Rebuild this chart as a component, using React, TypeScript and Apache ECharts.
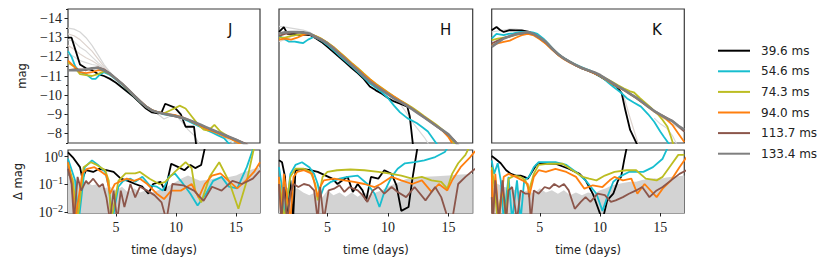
import React, { useEffect, useRef } from "react";
import * as echarts from "echarts";

type P = [number, number];

const SERIES_NAMES = ["39.6 ms", "54.6 ms", "74.3 ms", "94.0 ms", "113.7 ms", "133.4 ms"];
const COLORS = ["#000000", "#17becf", "#bcbd22", "#ff7f0e", "#8c564b", "#7f7f7f"];
const PANEL_LABELS = ["J", "H", "K"];
const MAG_TICKS = [-14, -13, -12, -11, -10, -9, -8];
const TIME_TICKS = [5, 10, 15];

// ---------- J band: magnitudes ----------
const J_BLACK: P[] = [[1,-13.0],[1.3,-13.0],[1.6,-12.4],[2,-11.6],[2.5,-11.4],[3,-11.3],[3.5,-11.1],[4,-11.0],[4.5,-10.85],[5,-10.65],[5.5,-10.4],[6,-10.15],[6.5,-9.9],[7,-9.6],[7.5,-9.3],[8,-9.1],[8.5,-9.05],[8.8,-9.1],[9.1,-9.55],[9.9,-9.35],[10.4,-9.0],[10.8,-8.35],[11.5,-8.35],[11.7,-7.3]];
const J_CYAN: P[] = [[1,-12.3],[1.3,-12.0],[1.6,-11.5],[2,-11.2],[2.5,-11.1],[3,-10.85],[3.3,-10.85],[3.7,-11.1],[4,-11.2],[4.5,-11.05],[5,-10.82],[5.5,-10.55],[6,-10.25],[6.5,-9.95],[7,-9.65],[7.5,-9.4],[8,-9.2],[8.5,-9.1],[9,-9.0],[9.5,-8.95],[10,-8.9],[10.5,-8.8],[11,-8.65],[11.5,-8.5],[12,-8.35],[12.5,-8.2],[13,-8.05],[13.5,-7.9],[14,-7.75],[14.3,-7.55],[14.6,-7.3]];
const J_OLIVE: P[] = [[1,-11.7],[1.5,-11.5],[2,-11.1],[2.5,-11.05],[3,-11.0],[3.5,-11.1],[4,-11.25],[4.5,-11.1],[5,-10.85],[5.5,-10.58],[6,-10.28],[6.5,-9.97],[7,-9.67],[7.5,-9.4],[8,-9.2],[8.5,-9.1],[9,-9.05],[9.5,-9.2],[10,-9.35],[10.3,-9.45],[10.8,-9.3],[11.3,-8.9],[11.8,-8.5],[12.3,-8.2],[12.7,-8.15],[13.2,-8.45],[13.7,-8.1],[14.2,-7.9],[14.7,-7.7],[15.2,-7.5],[15.6,-7.3]];
const J_ORANGE: P[] = [[1,-11.8],[1.5,-11.5],[2,-11.2],[2.5,-11.15],[3,-11.2],[3.5,-11.3],[4,-11.3],[4.5,-11.1],[5,-10.85],[5.5,-10.6],[6,-10.3],[6.5,-10.0],[7,-9.7],[7.5,-9.42],[8,-9.22],[8.5,-9.12],[9,-9.05],[9.5,-9.0],[10,-8.95],[10.5,-8.85],[11,-8.72],[11.5,-8.55],[12,-8.4],[12.5,-8.25],[13,-8.12],[13.5,-8.0],[14,-7.85],[14.5,-7.72],[15,-7.58],[15.5,-7.4]];
const J_BROWN: P[] = [[1,-11.3],[1.5,-11.35],[2,-11.35],[2.5,-11.3],[3,-11.4],[3.5,-11.45],[4,-11.35],[4.5,-11.12],[5,-10.87],[5.5,-10.6],[6,-10.3],[6.5,-10.0],[7,-9.7],[7.5,-9.42],[8,-9.2],[8.5,-9.1],[9,-9.02],[9.5,-8.96],[10,-8.88],[10.5,-8.8],[11,-8.7],[11.5,-8.58],[12,-8.45],[12.5,-8.32],[13,-8.18],[13.5,-8.05],[14,-7.92],[14.5,-7.8],[15,-7.68],[15.5,-7.55],[16,-7.4]];
const J_GRAY: P[] = [[1,-11.3],[1.5,-11.3],[2,-11.3],[2.5,-11.35],[3,-11.4],[3.5,-11.43],[4,-11.3],[4.5,-11.12],[5,-10.85],[5.5,-10.6],[6,-10.3],[6.5,-9.98],[7,-9.68],[7.5,-9.4],[8,-9.2],[8.5,-9.1],[9,-9.03],[9.5,-8.97],[10,-8.9],[10.5,-8.83],[11,-8.72],[11.5,-8.6],[12,-8.47],[12.5,-8.33],[13,-8.2],[13.5,-8.07],[14,-7.93],[14.5,-7.8],[15,-7.67],[15.5,-7.52],[16,-7.35]];
const J_FAINT: P[][] = [
  [[1,-13.5],[1.5,-13.45],[2,-13.3],[2.5,-13.0],[3,-12.6],[3.5,-12.1],[4,-11.6],[4.5,-11.2],[5,-10.9],[5.5,-10.62],[6,-10.32]],
  [[1,-13.2],[1.5,-13.1],[2,-12.9],[2.5,-12.6],[3,-12.3],[3.5,-11.9],[4,-11.5],[4.5,-11.15],[5,-10.88],[5.5,-10.6]],
  [[1,-12.9],[1.5,-12.8],[2,-12.5],[2.5,-12.3],[3,-12.0],[3.5,-11.7],[4,-11.45],[4.5,-11.15],[5,-10.87]],
  [[1,-12.6],[1.5,-12.4],[2,-12.15],[2.5,-11.95],[3,-11.8],[3.5,-11.6],[4,-11.4],[4.5,-11.12]],
  [[1,-12.2],[1.5,-12.0],[2,-11.8],[2.5,-11.7],[3,-11.6],[3.5,-11.55],[4,-11.4]],
  [[8,-9.2],[8.5,-9.0],[9,-8.75],[9.5,-8.9],[10,-8.95],[10.5,-8.6],[11,-8.2],[11.5,-7.9],[12,-7.4]],
  [[12,-8.4],[13,-8.1],[14,-7.8],[14.8,-7.5]],
];

// ---------- H band: magnitudes ----------
const H_BLACK: P[] = [[1,-13.3],[1.4,-13.55],[1.7,-13.2],[2.2,-13.2],[2.7,-13.15],[3.2,-13.15],[3.6,-13.13],[4,-12.98],[4.5,-12.78],[5,-12.52],[5.5,-12.25],[6,-11.97],[6.5,-11.7],[7,-11.42],[7.5,-11.15],[8,-10.85],[8.5,-10.45],[9,-10.25],[9.5,-10.07],[10,-9.85],[10.5,-9.67],[11,-9.55],[11.6,-9.4],[11.8,-8.9],[12.1,-7.2]];
const H_CYAN: P[] = [[1,-13.1],[1.4,-12.95],[1.8,-12.8],[2.3,-12.8],[2.7,-12.75],[3,-12.72],[3.4,-12.9],[3.9,-13.05],[4.5,-12.85],[5,-12.62],[5.5,-12.35],[6,-12.05],[6.5,-11.78],[7,-11.5],[7.5,-11.22],[8,-10.92],[8.5,-10.62],[9,-10.38],[9.5,-10.15],[10,-9.85],[10.5,-9.45],[11,-9.1],[11.6,-8.8],[12.4,-8.53],[12.9,-8.3],[13.3,-8.1],[13.9,-7.57],[14.2,-7.3]];
const H_OLIVE: P[] = [[1,-13.0],[1.5,-13.0],[2,-13.1],[2.5,-13.15],[3,-13.2],[3.5,-13.2],[4,-13.1],[4.5,-12.95],[5,-12.75],[5.5,-12.52],[6,-12.25],[6.5,-11.97],[7,-11.68],[7.5,-11.42],[8,-11.13],[8.5,-10.85],[9,-10.6],[9.5,-10.38],[10,-10.15],[10.5,-9.93],[11,-9.73],[11.5,-9.55],[12,-9.35],[12.5,-9.13],[13,-8.9],[13.5,-8.68],[14,-8.45],[14.5,-8.2],[15,-7.9],[15.4,-7.55],[15.7,-7.3]];
const H_ORANGE: P[] = [[1,-12.9],[1.5,-12.95],[2,-12.9],[2.5,-13.0],[3,-13.15],[3.5,-13.2],[4,-13.08],[4.5,-12.93],[5,-12.73],[5.5,-12.5],[6,-12.22],[6.5,-11.94],[7,-11.65],[7.5,-11.38],[8,-11.1],[8.5,-10.83],[9,-10.57],[9.5,-10.35],[10,-10.13],[10.5,-9.93],[11,-9.72],[11.5,-9.52],[12,-9.3],[12.5,-9.08],[13,-8.86],[13.5,-8.64],[14,-8.4],[14.5,-8.15],[15,-7.8],[15.3,-7.5]];
const H_BROWN: P[] = [[1,-13.1],[1.5,-13.2],[2,-13.25],[2.5,-13.28],[3,-13.25],[3.5,-13.18],[4,-13.02],[4.5,-12.87],[5,-12.68],[5.5,-12.43],[6,-12.14],[6.5,-11.86],[7,-11.57],[7.5,-11.29],[8,-11.0],[8.5,-10.72],[9,-10.47],[9.5,-10.26],[10,-10.04],[10.5,-9.83],[11,-9.65],[11.5,-9.47],[12,-9.27],[12.5,-9.05],[13,-8.83],[13.5,-8.61],[14,-8.38],[14.5,-8.15],[15,-7.92],[15.5,-7.62],[15.8,-7.4]];
const H_GRAY: P[] = [[1,-13.22],[1.5,-13.28],[2,-13.3],[2.5,-13.3],[3,-13.28],[3.5,-13.22],[4,-13.05],[4.5,-12.9],[5,-12.7],[5.5,-12.45],[6,-12.15],[6.5,-11.87],[7,-11.58],[7.5,-11.3],[8,-11.0],[8.5,-10.72],[9,-10.48],[9.5,-10.27],[10,-10.05],[10.5,-9.83],[11,-9.66],[11.5,-9.48],[12,-9.27],[12.5,-9.05],[13,-8.83],[13.5,-8.61],[14,-8.39],[14.5,-8.17],[15,-7.95],[15.5,-7.6],[15.9,-7.3]];
const H_FAINT: P[][] = [
  [[1,-13.6],[1.5,-13.55],[2,-13.5],[2.5,-13.45],[3,-13.4],[3.5,-13.3],[4,-13.1],[4.5,-12.92]],
  [[1,-12.8],[1.5,-12.9],[2,-13.05],[2.5,-13.15],[3,-13.2],[3.5,-13.15],[4,-13.03]],
  [[10.5,-9.75],[11,-9.55],[11.5,-9.1],[12,-8.6],[12.5,-8.2],[13,-7.8],[13.4,-7.4]],
];

// ---------- K band: magnitudes ----------
const K_BLACK: P[] = [[1,-13.39],[1.4,-13.56],[1.7,-13.4],[2,-13.3],[2.5,-13.4],[3,-13.38],[3.5,-13.38],[4,-13.32],[4.5,-13.2],[5,-13.0],[5.5,-12.78],[6,-12.45],[6.5,-12.15],[7,-11.92],[7.5,-11.74],[8,-11.55],[8.5,-11.4],[9,-11.28],[9.5,-11.15],[10,-10.98],[10.5,-10.78],[11,-10.58],[11.4,-10.44],[11.8,-10.1],[12.1,-9.22],[12.5,-8.18],[13.1,-7.4]];
const K_CYAN: P[] = [[1,-12.96],[1.4,-13.2],[2,-13.13],[2.4,-13.2],[2.8,-13.22],[3.4,-13.3],[3.9,-13.3],[4.4,-13.28],[4.8,-13.2],[5.3,-12.95],[5.8,-12.62],[6.3,-12.28],[6.8,-12.02],[7.3,-11.82],[7.8,-11.65],[8.3,-11.5],[8.8,-11.37],[9.3,-11.25],[9.8,-11.05],[10.3,-10.87],[10.7,-10.65],[11.1,-10.44],[11.7,-10.15],[12.25,-9.83],[12.8,-9.62],[13.4,-9.4],[14,-9.0],[14.5,-8.61],[15,-8.1],[15.3,-7.83],[15.9,-7.3]];
const K_OLIVE: P[] = [[1,-12.87],[1.5,-12.95],[2,-13.0],[2.5,-13.05],[3,-13.15],[3.5,-13.2],[4,-13.25],[4.5,-13.15],[5,-12.95],[5.5,-12.7],[6,-12.4],[6.5,-12.12],[7,-11.9],[7.5,-11.73],[8,-11.56],[8.5,-11.42],[9,-11.3],[9.5,-11.18],[10,-11.03],[10.5,-10.87],[11,-10.7],[11.5,-10.52],[12,-10.35],[12.5,-10.2],[12.8,-10.15],[13.3,-9.85],[13.8,-9.58],[14.3,-9.3],[14.8,-9.0],[15.2,-8.7],[15.6,-8.35],[15.9,-7.8],[16.1,-7.4]];
const K_ORANGE: P[] = [[1,-12.6],[1.5,-12.7],[2,-12.78],[2.5,-12.85],[3,-13.0],[3.5,-13.13],[4,-13.2],[4.5,-13.12],[5,-12.92],[5.5,-12.68],[6,-12.38],[6.5,-12.1],[7,-11.88],[7.5,-11.7],[8,-11.54],[8.5,-11.4],[9,-11.28],[9.5,-11.15],[10,-11.0],[10.5,-10.8],[11,-10.6],[11.5,-10.42],[12,-10.25],[12.5,-10.05],[13,-9.85],[13.5,-9.62],[14,-9.38],[14.5,-9.15],[15,-8.95],[15.5,-8.75],[16,-8.45],[16.5,-8.0],[17,-7.55]];
const K_BROWN: P[] = [[1,-12.7],[1.5,-12.85],[2,-12.98],[2.5,-13.08],[3,-13.17],[3.5,-13.22],[4,-13.28],[4.5,-13.18],[5,-12.98],[5.5,-12.75],[6,-12.42],[6.5,-12.13],[7,-11.9],[7.5,-11.72],[8,-11.55],[8.5,-11.41],[9,-11.3],[9.5,-11.18],[10,-11.03],[10.5,-10.84],[11,-10.64],[11.5,-10.45],[12,-10.27],[12.5,-10.07],[13,-9.86],[13.5,-9.63],[14,-9.4],[14.5,-9.18],[15,-9.0],[15.5,-8.83],[16,-8.65],[16.4,-8.44],[17,-8.1]];
const K_GRAY: P[] = [[1,-12.52],[1.5,-12.75],[2,-12.96],[2.5,-13.08],[3,-13.18],[3.5,-13.24],[4,-13.3],[4.5,-13.2],[5,-13.0],[5.5,-12.78],[6,-12.45],[6.5,-12.15],[7,-11.92],[7.5,-11.74],[8,-11.57],[8.5,-11.42],[9,-11.3],[9.5,-11.2],[10,-11.05],[10.5,-10.85],[11,-10.65],[11.5,-10.45],[12,-10.27],[12.5,-10.07],[13,-9.87],[13.5,-9.64],[14,-9.4],[14.5,-9.17],[15,-8.98],[15.5,-8.8],[16,-8.65],[16.5,-8.4],[17,-8.2]];
const K_FAINT: P[][] = [
  [[1,-13.3],[1.5,-13.35],[2,-13.4],[2.5,-13.45],[3,-13.45],[3.5,-13.4],[4,-13.35],[4.5,-13.22]],
  [[11.5,-10.4],[12,-9.9],[12.4,-9.0],[12.8,-8.2],[13.2,-7.4]],
  [[14.5,-8.8],[15,-8.5],[15.5,-8.3],[16,-7.9],[16.4,-7.4]],
  [[15,-8.9],[15.5,-8.7],[16,-8.5],[16.5,-8.3],[17,-8.1]],
];

// ---------- Δ mag (log) ----------
const DJ_BLACK: P[] = [[1,1.35],[1.4,0.9],[2.0,0.4],[2.2,0.155],[2.5,0.31],[3.1,0.27],[3.6,0.35],[4.2,0.31],[4.8,0.27],[5.4,0.155],[6,0.13],[6.6,0.1],[7.2,0.08],[7.7,0.045],[8.1,0.1],[8.7,0.12],[9.1,0.058],[9.6,0.53],[10.2,0.4],[10.7,0.31],[11.2,0.48],[11.6,0.37],[12.1,0.48],[12.5,3]];
const DJ_CYAN: P[] = [[1,0.8],[1.6,0.13],[1.9,0.005],[2.4,0.4],[3,0.7],[3.5,0.48],[4.1,0.27],[4.4,0.08],[4.7,0.005],[5.2,0.08],[5.6,0.13],[6.2,0.155],[6.6,0.12],[7.2,0.18],[7.8,0.09],[8.4,0.08],[8.9,0.058],[9.4,0.18],[9.9,0.24],[10.4,0.13],[11.2,0.045],[11.8,0.017],[12.5,0.045],[13.1,0.13],[13.8,0.18],[14.4,0.08],[15.1,0.07],[15.9,0.4],[16.6,3]];
const DJ_OLIVE: P[] = [[1,0.53],[1.4,0.13],[1.8,0.005],[2.3,0.4],[2.9,0.6],[3.4,0.48],[4.1,0.31],[4.4,0.13],[4.6,0.005],[5.2,0.13],[5.8,0.24],[6.6,0.24],[7,0.27],[7.8,0.155],[8.6,0.1],[9.1,0.12],[9.9,0.27],[10.8,0.6],[11.3,0.37],[11.6,0.058],[12.1,0.022],[12.8,0.18],[13.6,0.6],[14.4,0.13],[15.2,0.013],[15.9,0.13],[16.6,3]];
const DJ_ORANGE: P[] = [[1,0.6],[1.3,0.13],[1.6,0.005],[2.2,0.24],[2.6,0.35],[3.2,0.4],[3.8,0.27],[4.2,0.2],[4.5,0.045],[4.9,0.1],[5.3,0.12],[5.9,0.155],[6.5,0.13],[7,0.155],[7.6,0.1],[8.4,0.045],[9,0.029],[9.6,0.058],[10.4,0.058],[11.3,0.1],[11.9,0.033],[12.4,0.1],[13,0.2],[13.7,0.24],[14.4,0.13],[15.1,0.07],[15.8,0.13],[16.5,0.27],[17,0.6]];
const DJ_BROWN: P[] = [[1,0.35],[1.3,0.1],[1.5,0.005],[1.8,0.18],[2.1,0.058],[2.5,0.13],[2.7,0.1],[3.1,0.155],[3.6,0.08],[3.9,0.1],[4.2,0.033],[4.5,0.005],[4.8,0.058],[5.1,0.005],[5.4,0.058],[5.7,0.015],[6.2,0.1],[6.6,0.033],[7,0.08],[7.6,0.058],[8.2,0.04],[8.8,0.022],[9.2,0.005],[9.7,0.1],[10.6,0.09],[11.5,0.058],[12.3,0.025],[13,0.08],[13.8,0.058],[14.7,0.13],[15.5,0.1],[16.4,0.155],[17,0.3]];
const DJ_FILL: P[] = [[1,0.2],[1.5,0.15],[2,0.1],[2.5,0.12],[3,0.09],[3.5,0.1],[4,0.07],[4.5,0.08],[5,0.06],[5.5,0.08],[6,0.05],[6.5,0.07],[7,0.05],[7.5,0.06],[8,0.05],[8.5,0.06],[9,0.07],[9.5,0.09],[10,0.12],[10.5,0.16],[11,0.2],[11.5,0.16],[12,0.13],[12.5,0.14],[13,0.15],[13.5,0.17],[14,0.16],[14.5,0.18],[15,0.2],[15.5,0.25],[16,0.3],[16.5,0.35],[17,0.4]];

const DH_BLACK: P[] = [[1,0.7],[1.25,0.6],[1.5,0.18],[1.67,0.005],[1.94,0.135],[2.16,0.005],[2.36,0.31],[2.9,0.35],[3.6,0.31],[4.2,0.27],[4.86,0.2],[5.4,0.155],[5.83,0.1],[6.25,0.135],[6.67,0.18],[7.1,0.052],[7.5,0.1],[7.9,0.059],[8.2,0.026],[8.6,0.18],[9.2,0.155],[9.7,0.31],[10.3,0.23],[10.7,0.09],[11.1,0.011],[11.7,0.015],[12.0,0.135],[12.5,3]];
const DH_CYAN: P[] = [[1,0.4],[1.25,0.078],[1.5,0.005],[1.94,0.23],[2.36,0.48],[2.9,0.6],[3.5,0.4],[3.9,0.23],[4.2,0.1],[4.4,0.034],[4.7,0.078],[5.3,0.12],[6,0.155],[6.67,0.18],[7.5,0.2],[8.3,0.1],[8.9,0.045],[9.3,0.015],[9.7,0.052],[10.3,0.18],[10.8,0.35],[11.4,0.55],[12.2,0.6],[13,0.7],[13.9,0.92],[14.7,1.4],[15.2,3]];
const DH_OLIVE: P[] = [[1,0.135],[1.25,0.026],[1.4,0.005],[1.94,0.18],[2.36,0.35],[3.05,0.35],[3.6,0.27],[4,0.1],[4.2,0.026],[4.6,0.18],[5,0.27],[5.8,0.31],[6.9,0.33],[8.05,0.31],[9.2,0.27],[10.3,0.23],[11.1,0.2],[12,0.155],[12.8,0.18],[13.6,0.135],[14.4,0.12],[14.9,0.068],[15.3,0.23],[15.8,0.55],[16.4,1.1],[16.9,3]];
const DH_ORANGE: P[] = [[1,0.18],[1.2,0.005],[1.4,0.23],[1.67,0.034],[1.94,0.005],[2.2,0.18],[2.5,0.27],[3.05,0.31],[3.75,0.23],[4.2,0.034],[4.4,0.078],[4.7,0.135],[5.55,0.155],[6.4,0.135],[7.2,0.12],[8.05,0.1],[8.9,0.078],[9.4,0.1],[10.3,0.18],[11.1,0.135],[12,0.1],[12.8,0.135],[13.6,0.052],[14.2,0.1],[14.9,0.059],[15.3,0.135],[16,0.4],[16.8,0.92],[17.2,1.5]];
const DH_BROWN: P[] = [[1,0.1],[1.2,0.005],[1.4,0.078],[1.67,0.005],[1.94,0.045],[2.2,0.1],[2.6,0.078],[3.05,0.1],[3.5,0.09],[3.9,0.059],[4.2,0.005],[4.4,0.078],[4.7,0.005],[5.1,0.059],[5.55,0.068],[6,0.09],[6.4,0.052],[6.8,0.078],[7.5,0.059],[7.9,0.04],[8.3,0.023],[8.75,0.059],[9.2,0.078],[9.7,0.045],[10.3,0.078],[10.8,0.052],[11.5,0.034],[12.2,0.078],[13.1,0.026],[13.9,0.078],[14.4,0.034],[15,0.005],[15.3,0.005],[15.8,0.1],[16.4,0.18],[17.2,0.35]];
const DH_FILL: P[] = [[1,0.1],[1.5,0.08],[2,0.06],[2.5,0.07],[3,0.05],[3.5,0.04],[4,0.05],[4.5,0.03],[5,0.06],[5.5,0.04],[6,0.05],[6.5,0.035],[7,0.05],[7.5,0.035],[8,0.05],[8.5,0.04],[9,0.05],[9.5,0.06],[10,0.08],[10.5,0.1],[11,0.12],[11.5,0.15],[12,0.16],[12.5,0.17],[13,0.18],[14,0.19],[15,0.2],[16,0.22],[17,0.23]];

const DK_BLACK: P[] = [[1,1.0],[1.3,0.8],[1.75,0.55],[2.2,0.31],[2.6,0.23],[3,0.2],[3.4,0.2],[3.7,0.18],[4,0.155],[4.25,0.23],[4.7,0.48],[5.2,0.55],[6.3,0.53],[7.4,0.35],[8.3,0.23],[8.8,0.135],[9.4,0.045],[9.8,0.015],[10.2,0.005],[10.6,0.026],[11.1,0.045],[11.5,0.135],[11.75,0.18],[12,0.7],[12.3,3]];
const DK_CYAN: P[] = [[1,0.7],[1.2,0.23],[1.5,0.55],[1.75,0.135],[2,0.005],[2.4,0.18],[2.7,0.005],[3.1,0.135],[3.4,0.005],[3.7,0.135],[4.1,0.18],[4.5,0.4],[4.9,0.6],[6.3,0.6],[7.2,0.48],[8,0.27],[8.8,0.135],[9.7,0.045],[10.2,0.011],[10.6,0.034],[11.1,0.12],[11.6,0.18],[12.4,0.27],[13.6,0.27],[14.4,0.4],[15.2,0.8],[15.8,3]];
const DK_OLIVE: P[] = [[1,0.4],[1.2,0.1],[1.5,0.005],[1.9,0.078],[2.2,0.005],[2.4,0.155],[2.9,0.2],[3.4,0.18],[3.8,0.135],[4.1,0.059],[4.5,0.23],[4.9,0.48],[5.8,0.53],[6.9,0.53],[7.7,0.31],[8.55,0.18],[9.1,0.155],[9.7,0.135],[10.4,0.2],[11.2,0.27],[12.2,0.31],[13,0.31],[13.8,0.155],[14.7,0.135],[15.2,0.18],[15.9,0.48],[16.5,1.1],[17,1.1]];
const DK_ORANGE: P[] = [[1,0.31],[1.1,0.005],[1.3,0.23],[1.6,0.005],[2,0.18],[2.4,0.23],[3,0.18],[3.55,0.135],[4,0.1],[4.1,0.034],[4.5,0.18],[4.9,0.31],[5.5,0.27],[6.3,0.35],[7.2,0.27],[8,0.18],[8.7,0.068],[9.4,0.09],[10.2,0.078],[10.8,0.135],[11.2,0.18],[11.9,0.135],[12.6,0.155],[13.1,0.045],[13.7,0.1],[14.7,0.034],[15.2,0.068],[15.9,0.135],[16.6,0.4],[17.2,0.92]];
const DK_BROWN: P[] = [[1,0.034],[1.1,0.005],[1.3,0.135],[1.6,0.005],[1.9,0.135],[2.2,0.005],[2.4,0.059],[2.7,0.078],[3.1,0.005],[3.4,0.059],[3.8,0.045],[4.1,0.045],[4.25,0.005],[4.5,0.059],[4.9,0.045],[5.4,0.078],[5.8,0.068],[6.2,0.1],[6.6,0.078],[7,0.1],[7.4,0.059],[7.9,0.013],[8.4,0.023],[8.8,0.034],[9.2,0.023],[9.8,0.045],[10.4,0.04],[10.9,0.023],[11.3,0.026],[11.9,0.034],[12.4,0.045],[13,0.059],[13.5,0.078],[14.1,0.034],[14.7,0.059],[15.2,0.078],[15.9,0.135],[16.6,0.23],[17.2,0.31]];
const DK_FILL: P[] = [[1,0.15],[1.5,0.1],[2,0.08],[2.5,0.07],[3,0.06],[3.5,0.05],[4,0.06],[4.5,0.045],[5,0.07],[5.5,0.05],[6,0.06],[6.5,0.045],[7,0.06],[7.5,0.04],[8,0.05],[8.5,0.04],[9,0.05],[9.5,0.045],[10,0.06],[10.5,0.07],[11,0.09],[11.5,0.1],[12,0.11],[12.5,0.12],[13,0.12],[13.5,0.14],[14,0.15],[14.5,0.16],[15,0.15],[15.5,0.17],[16,0.18],[16.5,0.19],[17,0.2]];

const TOP = [
  { lines: [J_BLACK, J_CYAN, J_OLIVE, J_ORANGE, J_BROWN, J_GRAY], faint: J_FAINT },
  { lines: [H_BLACK, H_CYAN, H_OLIVE, H_ORANGE, H_BROWN, H_GRAY], faint: H_FAINT },
  { lines: [K_BLACK, K_CYAN, K_OLIVE, K_ORANGE, K_BROWN, K_GRAY], faint: K_FAINT },
];
const BOTTOM = [
  { lines: [DJ_BLACK, DJ_CYAN, DJ_OLIVE, DJ_ORANGE, DJ_BROWN], fill: DJ_FILL },
  { lines: [DH_BLACK, DH_CYAN, DH_OLIVE, DH_ORANGE, DH_BROWN], fill: DH_FILL },
  { lines: [DK_BLACK, DK_CYAN, DK_OLIVE, DK_ORANGE, DK_BROWN], fill: DK_FILL },
];

const SERIF = "'Liberation Serif', 'DejaVu Serif', serif";
const SANS = "'DejaVu Sans', sans-serif";
const FAINT_COLORS = ["#d6d6d6", "#dcd2cd", "#d9d9d9", "#e0d6d0", "#dadada", "#d4d4d4", "#c9ecf0"];

export default function App() {
  const ref = useRef<HTMLDivElement>(null);
  useEffect(() => {
    if (!ref.current) return;
    const chart = echarts.init(ref.current, undefined, { renderer: "svg" });
    const lefts = [68, 279, 491.7];
    const widths = [192, 193.7, 192.6];
    const grids: any[] = [];
    const xAxes: any[] = [];
    const yAxes: any[] = [];
    const series: any[] = [];
    const frame = { show: true, borderColor: "#3a3a3a", borderWidth: 1.2, backgroundColor: "transparent" };

    for (let p = 0; p < 3; p++) {
      grids.push({ left: lefts[p], top: 9, width: widths[p], height: 134, ...frame });
    }
    for (let p = 0; p < 3; p++) {
      grids.push({ left: lefts[p], top: 150, width: widths[p], height: 63, ...frame });
    }
    // x axes
    for (let g = 0; g < 6; g++) {
      const bottom = g >= 3;
      xAxes.push({
        type: "value", gridIndex: g, min: 1, max: 17,
        splitLine: { show: false },
        axisLine: { show: false },
        axisTick: bottom ? { show: true, customValues: TIME_TICKS, length: 3.5, lineStyle: { color: "#222" } } : { show: false },
        axisLabel: bottom ? { show: true, customValues: TIME_TICKS, fontFamily: SERIF, fontSize: 14, color: "#222", margin: 7 } : { show: false },
        name: bottom ? "time (days)" : "",
        nameLocation: "middle", nameGap: 31,
        nameTextStyle: { fontFamily: SANS, fontSize: 11.5, color: "#222" },
      });
    }
    // y axes top
    for (let p = 0; p < 3; p++) {
      const first = p === 0;
      yAxes.push({
        type: "value", gridIndex: p, min: -14.5, max: -7.5, inverse: true, position: "left",
        splitLine: { show: false }, axisLine: { show: false },
        axisTick: first ? { show: true, customValues: MAG_TICKS, length: 3.5, lineStyle: { color: "#222" } } : { show: false },
        axisLabel: first ? { show: true, customValues: MAG_TICKS, fontFamily: SERIF, fontSize: 14, color: "#222", margin: 6, formatter: (v: number) => "\u2212" + Math.abs(v) } : { show: false },
        name: first ? "mag" : "", nameLocation: "middle", nameGap: 40,
        nameTextStyle: { fontFamily: SANS, fontSize: 11.5, color: "#222" },
      });
    }
    // y axes bottom (log)
    for (let p = 0; p < 3; p++) {
      const first = p === 0;
      yAxes.push({
        type: "log", logBase: 10, gridIndex: 3 + p, min: 0.0092, max: 1.64, position: "left",
        splitLine: { show: false }, axisLine: { show: false },
        axisTick: first ? { show: true, length: 3.5, lineStyle: { color: "#222" } } : { show: false },
        axisLabel: first ? {
          show: true, margin: 5, color: "#222",
          showMinLabel: false, showMaxLabel: false,
          formatter: (v: number) => {
            const l = Math.log10(v);
            const e = Math.round(l);
            if (Math.abs(l - e) > 1e-6) return "";
            return "{b|10}{s|" + (e < 0 ? "\u2212" + -e : "" + e) + "}";
          },
          rich: {
            b: { fontFamily: SERIF, fontSize: 14, color: "#222", verticalAlign: "bottom", lineHeight: 16 },
            s: { fontFamily: SERIF, fontSize: 10, color: "#222", verticalAlign: "top", lineHeight: 10, padding: [0, 0, 7, 0] },
          },
        } : { show: false },
        name: first ? "\u0394 mag" : "", nameLocation: "middle", nameGap: 44,
        nameTextStyle: { fontFamily: SANS, fontSize: 11.5, color: "#222" },
      });
    }
    // minor ticks for J top axis
    yAxes.push({
      type: "value", gridIndex: 0, min: -14.5, max: -7.5, interval: 0.5, inverse: true, position: "left",
      splitLine: { show: false }, axisLine: { show: false }, axisLabel: { show: false },
      axisTick: { show: true, length: 2, lineStyle: { color: "#222" } },
    });

    const mk = (name: string, data: P[], color: string, width: number, xi: number, yi: number, z = 2, opacity = 1) => ({
      type: "line", name, data, xAxisIndex: xi, yAxisIndex: yi, symbol: "none", showSymbol: false,
      lineStyle: { color, width, opacity }, itemStyle: { color }, z, clip: true, silent: true,
    });

    for (let p = 0; p < 3; p++) {
      TOP[p].faint.forEach((d, i) => series.push(mk("faint" + p + "_" + i, d, FAINT_COLORS[i % FAINT_COLORS.length], 1.2, p, p, 1)));
      TOP[p].lines.forEach((d, i) => series.push(mk(SERIES_NAMES[i], d, COLORS[i], i === 5 ? 2.6 : 1.8, p, p, 2)));
      series.push({
        type: "line", name: "spread" + p, data: BOTTOM[p].fill, xAxisIndex: 3 + p, yAxisIndex: 3 + p,
        symbol: "none", lineStyle: { width: 0, color: "#d3d3d3" }, itemStyle: { color: "#d3d3d3" },
        areaStyle: { color: "#d3d3d3", opacity: 1, origin: "start" }, z: 1, silent: true,
      });
      BOTTOM[p].lines.forEach((d, i) => series.push(mk(SERIES_NAMES[i], d, COLORS[i], 1.8, 3 + p, 3 + p, 2)));
    }

    const titles = PANEL_LABELS.map((t, i) => ({
      text: t, left: [228, 440, 652][i], top: 22, padding: 0,
      textStyle: { fontFamily: SANS, fontSize: 15, fontWeight: "normal", color: "#111" },
    }));

    chart.setOption({
      animation: false,
      backgroundColor: "#ffffff",
      title: titles,
      grid: grids,
      xAxis: xAxes,
      yAxis: yAxes,
      legend: {
        data: SERIES_NAMES, orient: "vertical", left: 718, top: 40.4, padding: 0,
        itemWidth: 32, itemHeight: 2, itemGap: 0, icon: "rect",
        textStyle: { fontFamily: SANS, fontSize: 12, color: "#222", lineHeight: 20.6, padding: [0, 0, 0, 6] },
        selectedMode: false,
      },
      series,
    });
    return () => chart.dispose();
  }, []);
  return <div ref={ref} style={{ width: 831, height: 265, position: "absolute", left: 0, top: 0 }} />;
}
